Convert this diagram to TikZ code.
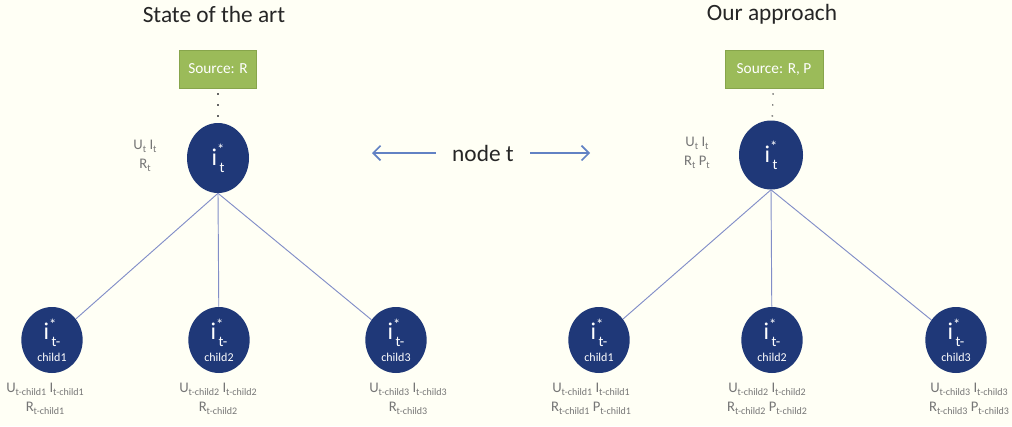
\documentclass[tikz,border=0pt]{standalone}
\usepackage{fontspec}
\setmainfont{Carlito}
\usepackage{tikz}
\usetikzlibrary{shapes.geometric,arrows.meta}
\definecolor{bgivory}{RGB}{255,255,245}
\definecolor{navyfill}{RGB}{31,56,120}
\definecolor{srcgreen}{RGB}{155,187,89}
\definecolor{srcedge}{RGB}{135,165,75}
\definecolor{linkblue}{RGB}{130,142,200}
\definecolor{arrblue}{RGB}{98,130,196}
\definecolor{labgray}{RGB}{118,118,118}
\newcommand{\lo}[1]{\raisebox{-0.45ex}{\fontsize{7.5}{8}\selectfont #1}}
\newcommand{\istar}[1]{i\rlap{\raisebox{0.95ex}{\fontsize{11}{11}\selectfont *}}\raisebox{-0.6ex}{\fontsize{11}{11}\selectfont\,#1}}
\tikzset{
  inode/.style={ellipse, fill=navyfill, text=white, inner sep=0pt, align=center,
    minimum width=46.5pt, minimum height=52.5pt, font=\fontsize{18}{18}\selectfont},
  cnode/.style={inode, minimum width=46pt, minimum height=49.5pt},
  source/.style={rectangle, fill=srcgreen, draw=srcedge, text=white,
    minimum height=28.5pt, font=\fontsize{11.5}{12}\selectfont},
  lab/.style={text=labgray, align=center, inner sep=0pt, font=\fontsize{11}{14}\selectfont},
  title/.style={text=black!85, font=\fontsize{17.5}{19}\selectfont},
  link/.style={linkblue, line width=0.7pt},
  dots/.style={black!60, line width=1pt, dash pattern=on 1pt off 7.25pt, shorten <=3.75pt},
  arr/.style={arrblue, line width=1.2pt, -{Straight Barb[length=5.5pt,width=11pt]}}
}
\newcommand{\child}[1]{\istar{t-}\\[-2pt]{\fontsize{9}{10}\selectfont child#1}}

\begin{document}
\begin{tikzpicture}[x=0.75pt,y=-0.75pt]
\fill[bgivory] (0,0) rectangle (1012,426);
\useasboundingbox (0,0) rectangle (1012,426);

% state of the art
\node[title] (titleL) at (214,14) {State of the art};
\node[source, minimum width=57.75pt] (srcL) at (218,69) {Source: R};
\node[inode] (topL) at (218,158) {\istar{t}};
\node[lab] (labL) at (145,156) {U\lo{t} I\lo{t}\\R\lo{t}};
\node[cnode] (lc1) at (52,340) {\child{1}};
\node[cnode] (lc2) at (219,340) {\child{2}};
\node[cnode] (lc3) at (396,340) {\child{3}};
\node[lab] (lab1) at (45,399) {U\lo{t-child1} I\lo{t-child1}\\R\lo{t-child1}};
\node[lab] (lab2) at (218,399) {U\lo{t-child2} I\lo{t-child2}\\R\lo{t-child2}};
\node[lab] (lab3) at (408,399) {U\lo{t-child3} I\lo{t-child3}\\R\lo{t-child3}};
\draw[dots] (srcL) -- (topL);
\foreach \c in {lc1,lc2,lc3}
  \draw[link] (topL.south) -- (\c);

% node t
\node[title, inner xsep=12pt] (nodet) at (483,153) {node t};
\coordinate (arrL) at (372,153);
\coordinate (arrR) at (590,153);
\draw[arr] (nodet) -- (arrL);
\draw[arr] (nodet) -- (arrR);

% our approach
\node[title] (titleR) at (772,14) {Our approach};
\node[source, minimum width=73.5pt] (srcR) at (774,69) {Source: R, P};
\node[inode, minimum width=48pt, minimum height=51.75pt] (topR) at (771,155) {\istar{t}};
\node[lab] (labR) at (697,153) {U\lo{t} I\lo{t}\\R\lo{t} P\lo{t}};
\node[cnode] (rc1) at (599,340) {\child{1}};
\node[cnode] (rc2) at (772,340) {\child{2}};
\node[cnode] (rc3) at (956,340) {\child{3}};
\node[lab] (rab1) at (591,399) {U\lo{t-child1} I\lo{t-child1}\\R\lo{t-child1} P\lo{t-child1}};
\node[lab] (rab2) at (767,399) {U\lo{t-child2} I\lo{t-child2}\\R\lo{t-child2} P\lo{t-child2}};
\node[lab] (rab3) at (969,399) {U\lo{t-child3} I\lo{t-child3}\\R\lo{t-child3} P\lo{t-child3}};
\draw[dots] (srcR) -- (topR);
\foreach \c in {rc1,rc2,rc3}
  \draw[link] (topR.south) -- (\c);
\end{tikzpicture}
\end{document}
